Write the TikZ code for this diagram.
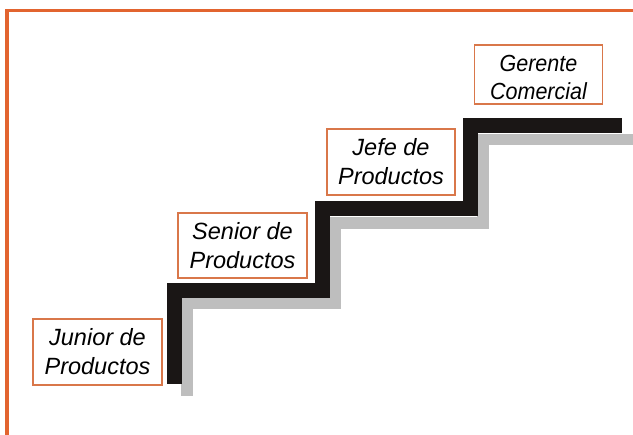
\documentclass[tikz,border=0pt]{standalone}
\usepackage{fontspec}
\setmainfont{Liberation Sans}
\newfontfamily\narrowsans[FakeStretch=0.923]{Liberation Sans}
\definecolor{frameorange}{HTML}{E2642F}
\definecolor{boxorange}{HTML}{D9774A}
\definecolor{stairblack}{HTML}{1A1615}
\definecolor{stairgray}{HTML}{BEBEBE}
\begin{document}
\begin{tikzpicture}[x=1pt,y=-1pt,
  rank/.style={draw=boxorange, line width=1.5pt, fill=white, align=center,
    minimum width=129pt, minimum height=66pt, inner sep=0pt,
    font=\fontsize{23.5}{29}\selectfont\itshape},
  ranktext/.style={align=center, inner sep=0pt, font=\narrowsans\fontsize{23.3}{28.5}\selectfont\itshape},
  blackstair/.style={draw=stairblack, line width=15pt, line join=miter, line cap=butt},
  graystair/.style={draw=stairgray, line width=11.5pt, line join=miter, line cap=butt}]
\useasboundingbox[fill=white] (0,0) rectangle (633,435);
% orange frame (top and left visible)
\draw[frameorange, line width=3.5pt, line join=miter] (7,436) -- (7,10.7) -- (634,10.7);
% gray shadow stairs
\draw[graystair] (187,396) -- (187,303) -- (335,303) -- (335,223) -- (483,223) -- (483,139.5) -- (634,139.5);
% black stairs
\draw[blackstair] (174.5,384) -- (174.5,291) -- (322.5,291) -- (322.5,208.5) -- (470.5,208.5) -- (470.5,125.5) -- (622,125.5);
% rank boxes
\node[rank] (junior) at (97.5,352) {Junior de\\Productos};
\node[rank, minimum height=65pt] (senior) at (242.5,245.5) {Senior de\\Productos};
\node[rank, minimum width=128pt] (jefe) at (391,162) {Jefe de\\Productos};
\node[rank, minimum width=128pt, minimum height=59pt,
  label={[ranktext, yshift=-3pt]center:Gerente\\Comercial}] (gerente) at (538.5,74.5) {};
\end{tikzpicture}
\end{document}
